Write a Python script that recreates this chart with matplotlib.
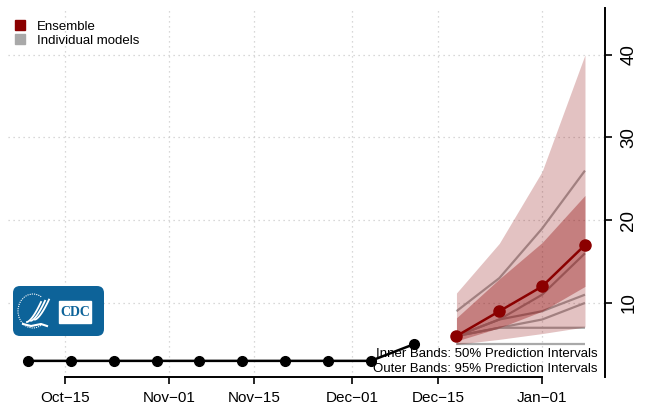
import matplotlib
matplotlib.use("Agg")
import matplotlib.pyplot as plt
import matplotlib.dates as mdates
from matplotlib.lines import Line2D
from matplotlib.patches import FancyBboxPatch, Rectangle, Arc
import numpy as np
import datetime as dt

plt.rcParams['font.family'] = ['Liberation Sans', 'DejaVu Sans']

# ---------------- data ----------------
obs_dates = ["2021-10-09", "2021-10-16", "2021-10-23", "2021-10-30", "2021-11-06",
             "2021-11-13", "2021-11-20", "2021-11-27", "2021-12-04", "2021-12-11"]
obs_values = [3, 3, 3, 3, 3, 3, 3, 3, 3, 5]

fc_dates = ["2021-12-18", "2021-12-25", "2022-01-01", "2022-01-08"]
ens_median = [6, 9, 12, 17]
ens_q025 = [5.0, 5.6, 6.3, 7.1]
ens_q975 = [11.2, 17.2, 25.9, 40.0]
ens_q25 = [5.4, 7.0, 9.0, 12.0]
ens_q75 = [8.2, 12.9, 17.3, 23.0]

model_a = [9, 13, 19, 26]
model_b = [6, 8, 11, 16]
model_c = [6, 8, 9, 11]
model_d = [6, 7, 8, 10]
model_e = [6, 7, 7, 7]
model_f = [5, 5, 5, 5]
individual_models = [model_a, model_b, model_c, model_d, model_e, model_f]

xtick_dates = ["2021-10-15", "2021-11-01", "2021-11-15", "2021-12-01", "2021-12-15", "2022-01-01"]
xtick_labels = ["Oct\u221215", "Nov\u221201", "Nov\u221215", "Dec\u221201", "Dec\u221215", "Jan\u221201"]
ytick_values = [10, 20, 30, 40]

# ---------------- figure ----------------
W, H = 645, 412
fig = plt.figure(figsize=(W / 100, H / 100), dpi=100)

def px_axes(x0, y0, x1, y1):
    return [x0 / W, 1 - y1 / H, (x1 - x0) / W, (y1 - y0) / H]

ax = fig.add_axes(px_axes(8, 8, 605, 377))

to_num = lambda s: mdates.date2num(dt.datetime.strptime(s, "%Y-%m-%d"))
od = [to_num(s) for s in obs_dates]
fd = [to_num(s) for s in fc_dates]

darkred = "#8B0000"
gray = "#A9A9A9"

# individual models (beneath bands)
for m in individual_models:
    ax.plot(fd, m, color=gray, lw=1.6, zorder=2, solid_capstyle="butt")

# bands
ax.fill_between(fd, ens_q025, ens_q975, color=darkred, alpha=0.24, lw=0, zorder=3)
ax.fill_between(fd, ens_q25, ens_q75, color=darkred, alpha=0.34, lw=0, zorder=4)

# ensemble median
ax.plot(fd, ens_median, color=darkred, lw=1.8, marker="o", ms=8, zorder=6)

# observed
ax.plot(od, obs_values, color="black", lw=1.8, marker="o", ms=7, zorder=6)

# limits
ax.set_xlim(od[0] - 3.27, fd[-1] + 3.27)
ax.set_ylim(1.05, 45.65)

# ticks and grid
xt = [to_num(s) for s in xtick_dates]
ax.set_xticks(xt)
ax.set_xticklabels(xtick_labels, fontsize=11)
ax.set_yticks(ytick_values)
ax.set_yticklabels([str(v) for v in ytick_values], fontsize=13.5, rotation=90, va="center")
ax.grid(True, color="#CCCCCC", linestyle=(0, (1, 3)), lw=0.9, zorder=0)

# spines
for s in ["top", "left"]:
    ax.spines[s].set_visible(False)
ax.spines["bottom"].set_bounds(xt[0], xt[-1])
ax.spines["bottom"].set_linewidth(1.4)
ax.spines["right"].set_linewidth(1.4)
ax.yaxis.tick_right()
ax.tick_params(axis="x", length=5, width=1.2, pad=5)
ax.tick_params(axis="y", length=5, width=1.2, pad=6)

# notes
ax.text(0.988, 0.0623, "Inner Bands: 50% Prediction Intervals", transform=ax.transAxes,
        ha="right", va="center", fontsize=9.5, zorder=7)
ax.text(0.988, 0.0217, "Outer Bands: 95% Prediction Intervals", transform=ax.transAxes,
        ha="right", va="center", fontsize=9.5, zorder=7)

# legend
handles = [Line2D([], [], marker="s", color=darkred, ls="none", ms=6.5),
           Line2D([], [], marker="s", color=gray, ls="none", ms=6.5)]
fig.legend(handles, ["Ensemble", "Individual models"], loc="upper left",
           bbox_to_anchor=(14.7 / W, 1 - 20.8 / H), frameon=False, fontsize=9.5,
           borderpad=0, borderaxespad=0, handlelength=0.8, handletextpad=0.89,
           labelspacing=0.1)

# CDC logo (decorative)
lax = fig.add_axes(px_axes(13, 286, 104, 336))
lax.set_xlim(0, 91)
lax.set_ylim(0, 50)
lax.axis("off")
lax.add_patch(FancyBboxPatch((0, 0), 91, 50, boxstyle="round,pad=0,rounding_size=7",
                             fc="#0D6399", ec="none"))
lax.add_patch(Arc((20, 25), 30, 34, theta1=60, theta2=300, color="white", lw=0.8, ls=(0, (1, 1))))
for off in [0, 4, 8]:
    t = np.linspace(0, 1, 30)
    xs = 14 + off + 14 * t
    ys = 14 + 20 * t ** 1.5 + off * 0.3
    lax.plot(xs, ys, color="white", lw=1.3)
lax.plot([10, 18, 28, 34], [12, 10, 12, 10], color="white", lw=1.5)
lax.add_patch(Rectangle((46, 13), 32, 22, fc="white", ec="white", lw=1))
lax.text(62, 24, "CDC", color="#0D6399", fontsize=10, fontweight="bold",
         ha="center", va="center", family="Liberation Serif")

fig.savefig("out.png", dpi=100)
